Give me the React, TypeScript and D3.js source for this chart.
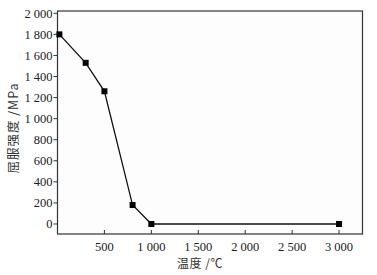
import React from "react";
import * as d3 from "d3";

const temps = [20, 300, 500, 800, 1000, 3000];
const strengths = [1800, 1530, 1260, 180, 0, 0];
const xTicks = [500, 1000, 1500, 2000, 2500, 3000];
const yTicks = [0, 200, 400, 600, 800, 1000, 1200, 1400, 1600, 1800, 2000];
const xTitle = "温度 /℃";
const yTitle = "屈服强度 /MPa";

const fmt = (v: number) => (v >= 1000 ? `${Math.floor(v / 1000)} ${String(v % 1000).padStart(3, "0")}` : String(v));

export default function App() {
  const W = 377, H = 275;
  const left = 57.5, right = 362.5, top = 11, bottom = 234;
  const x = d3.scaleLinear().domain([0, 3250]).range([left, right]);
  const y = d3.scaleLinear().domain([-95, 2022]).range([bottom, top]);
  const pts = temps.map((t, i) => [x(t), y(strengths[i])] as [number, number]);
  const line = d3.line();
  const serif = "'Liberation Serif', 'Times New Roman', serif";
  const cjk = "'Noto Sans CJK SC', sans-serif";
  const col = "#222";
  return (
    <svg width={W} height={H} style={{ position: "absolute", left: 0, top: 0 }}>
      <rect x={0} y={0} width={W} height={H} fill="#fff" />
      <rect x={left} y={top} width={right - left} height={bottom - top} fill="#fdfdfd" stroke="#333" strokeWidth={1.2} />
      {yTicks.map((v) => (
        <g key={v}>
          <line x1={left - 4} x2={left} y1={y(v)} y2={y(v)} stroke="#333" strokeWidth={1} />
          <text x={left - 5} y={y(v)} dy="0.35em" textAnchor="end" fontFamily={serif} fontSize={12.5} fill={col}>
            {fmt(v)}
          </text>
        </g>
      ))}
      {xTicks.map((v) => (
        <g key={v}>
          <line x1={x(v)} x2={x(v)} y1={bottom} y2={bottom - 4} stroke="#333" strokeWidth={1} />
          <text x={x(v)} y={251} textAnchor="middle" fontFamily={serif} fontSize={12.5} fill={col}>
            {fmt(v)}
          </text>
        </g>
      ))}
      <path d={line(pts) || ""} fill="none" stroke="#111" strokeWidth={1.3} />
      {pts.map((p, i) => (
        <rect key={i} x={p[0] - 3} y={p[1] - 3} width={6} height={6} fill="#000" />
      ))}
      <text x={200} y={268} textAnchor="middle" fontFamily={cjk} fontSize={12} letterSpacing={0.5} fill="#333">
        {xTitle}
      </text>
      <text
        transform={`translate(18,128) rotate(-90)`}
        textAnchor="middle"
        fontFamily={cjk}
        fontSize={12.5}
        letterSpacing={1}
        fill="#333"
      >
        {yTitle}
      </text>
    </svg>
  );
}
